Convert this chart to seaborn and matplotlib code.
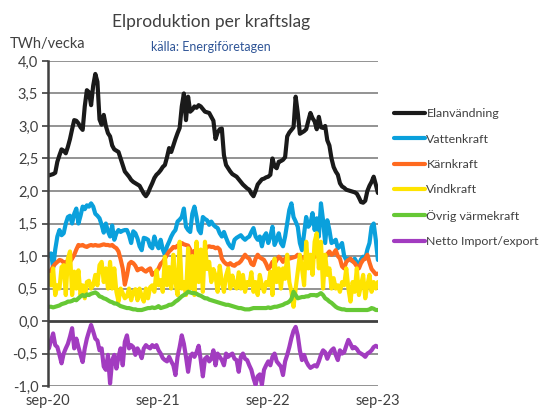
import numpy as np
import pandas as pd
import matplotlib
matplotlib.use("Agg")
import matplotlib.pyplot as plt
import matplotlib.ticker as mticker
import seaborn as sns

# Weekly values, TWh/vecka, from sep-20 to sep-23
elanvandning = [
    2.24, 2.25, 2.26, 2.28, 2.45, 2.55, 2.64, 2.62, 2.58, 2.68, 2.80, 2.95, 3.09, 3.08, 3.04, 2.98,
    2.94, 3.30, 3.55, 3.52, 3.32, 3.62, 3.80, 3.68, 3.10, 3.02, 3.17, 3.00, 2.89, 2.84, 2.70, 2.64,
    2.62, 2.60, 2.50, 2.40, 2.30, 2.26, 2.22, 2.17, 2.14, 2.12, 2.10, 2.08, 2.02, 1.96, 1.92, 1.97,
    2.05, 2.12, 2.20, 2.25, 2.28, 2.32, 2.37, 2.40, 2.52, 2.66, 2.60, 2.70, 2.80, 2.89, 2.97, 3.30,
    3.50, 3.09, 3.45, 3.22, 3.25, 3.30, 3.28, 3.32, 3.30, 3.26, 3.22, 3.21, 3.20, 3.14, 3.08, 2.80,
    2.90, 2.95, 2.96, 2.55, 2.40, 2.35, 2.30, 2.26, 2.24, 2.22, 2.18, 2.14, 2.10, 2.07, 2.04, 2.02,
    1.96, 1.92, 2.00, 2.10, 2.14, 2.18, 2.19, 2.21, 2.22, 2.25, 2.50, 2.38, 2.35, 2.45, 2.46, 2.48,
    2.52, 2.84, 2.90, 2.94, 2.98, 3.45, 3.20, 2.88, 2.90, 2.92, 2.95, 3.08, 3.20, 3.12, 3.07, 2.95,
    3.14, 2.98, 2.97, 3.00, 2.78, 2.70, 2.50, 2.37, 2.30, 2.25, 2.12, 2.07, 2.05, 2.02, 2.01, 2.00,
    1.99, 1.98, 1.96, 1.90, 1.83, 1.82, 1.85, 2.00, 2.08, 2.14, 2.22, 2.10, 1.97,
]
vattenkraft = [
    1.00, 1.04, 0.82, 1.10, 1.30, 1.40, 1.32, 1.35, 1.50, 1.60, 1.62, 1.50, 1.65, 1.73, 1.50, 1.62,
    1.76, 1.72, 1.78, 1.76, 1.81, 1.76, 1.65, 1.62, 1.58, 1.48, 1.36, 1.50, 1.38, 1.30, 1.47, 1.25,
    1.35, 1.40, 1.37, 1.39, 1.40, 1.40, 1.32, 1.20, 1.38, 1.35, 1.27, 1.15, 1.09, 1.28, 1.27, 1.25,
    1.15, 1.12, 1.30, 1.18, 1.12, 1.25, 1.10, 1.02, 1.15, 1.22, 1.30, 1.36, 1.40, 1.53, 1.56, 1.60,
    1.73, 1.45, 1.40, 1.37, 1.65, 1.76, 1.60, 1.40, 1.35, 1.60, 1.57, 1.55, 1.48, 1.53, 1.48, 1.45,
    1.43, 1.35, 1.30, 1.37, 1.28, 1.20, 1.15, 1.12, 1.25, 1.28, 1.30, 1.32, 1.28, 1.25, 1.28, 1.30,
    1.37, 1.43, 1.30, 1.25, 1.30, 1.15, 1.30, 1.35, 1.20, 1.30, 1.45, 1.17, 1.25, 1.35, 1.20, 1.15,
    1.30, 1.50, 1.71, 1.81, 1.60, 1.53, 1.45, 1.20, 1.09, 1.35, 1.60, 1.45, 1.50, 1.66, 1.40, 1.58,
    1.30, 1.81, 1.55, 1.20, 1.55, 1.40, 1.20, 1.22, 1.25, 1.12, 1.15, 1.20, 1.00, 0.94, 0.96, 0.94,
    0.92, 0.96, 0.90, 0.86, 0.95, 0.99, 0.96, 1.10, 1.20, 1.45, 1.50, 1.25, 0.94,
]
karnkraft = [
    0.76, 0.78, 0.84, 0.88, 0.91, 0.94, 0.93, 0.90, 0.91, 0.92, 0.91, 0.96, 1.02, 1.10, 1.17, 1.16,
    1.17, 1.15, 1.14, 1.16, 1.17, 1.16, 1.17, 1.16, 1.16, 1.17, 1.18, 1.17, 1.17, 1.16, 1.17, 1.14,
    1.12, 1.07, 0.95, 0.81, 0.56, 0.70, 0.88, 0.91, 0.89, 0.85, 0.78, 0.80, 0.81, 0.78, 0.76, 0.79,
    0.81, 0.71, 0.74, 0.76, 0.81, 0.88, 0.91, 0.96, 1.02, 1.07, 1.10, 1.14, 1.13, 1.16, 1.17, 1.20,
    1.18, 1.17, 1.16, 1.10, 1.02, 1.08, 1.02, 0.96, 1.02, 1.07, 1.10, 1.14, 1.15, 1.14, 1.14, 1.12,
    1.13, 1.10, 0.96, 0.91, 0.88, 0.86, 0.89, 0.86, 0.85, 0.88, 0.89, 0.92, 0.97, 1.02, 0.98, 0.96,
    0.88, 0.86, 0.96, 1.02, 0.98, 0.96, 0.94, 0.88, 0.80, 0.84, 0.91, 0.88, 0.94, 0.99, 0.96, 0.91,
    0.96, 0.99, 0.96, 0.97, 0.98, 0.99, 1.02, 1.00, 0.96, 0.98, 0.99, 1.02, 0.98, 0.96, 0.99, 1.00,
    1.02, 0.97, 0.95, 0.99, 1.03, 1.07, 1.02, 1.04, 1.09, 1.00, 0.96, 0.84, 0.81, 0.91, 0.94, 0.96,
    0.92, 0.89, 0.84, 0.81, 0.89, 0.94, 0.96, 1.02, 0.90, 0.80, 0.76, 0.72, 0.73,
]
vindkraft = [
    0.71, 0.55, 0.81, 0.40, 0.55, 0.50, 0.83, 0.86, 0.40, 0.96, 1.07, 0.40, 0.76, 0.50, 0.78, 0.40,
    0.55, 0.35, 0.60, 0.62, 0.50, 0.55, 0.71, 0.55, 0.86, 0.91, 0.60, 0.81, 0.50, 0.91, 0.50, 0.81,
    0.45, 0.30, 0.50, 0.43, 0.35, 0.38, 0.50, 0.32, 0.45, 0.49, 0.32, 0.50, 0.38, 0.30, 0.50, 0.35,
    0.52, 0.55, 0.45, 0.78, 0.55, 0.63, 0.45, 0.99, 0.55, 0.83, 0.50, 1.02, 0.60, 0.40, 1.22, 0.50,
    0.60, 0.40, 1.12, 0.50, 1.00, 0.40, 1.22, 0.60, 1.10, 0.45, 1.22, 0.80, 0.91, 0.60, 0.80, 0.70,
    0.45, 0.85, 0.60, 0.45, 0.70, 0.81, 0.50, 0.70, 0.55, 0.50, 0.75, 0.50, 0.71, 0.45, 0.60, 0.55,
    0.75, 0.45, 0.60, 0.40, 0.71, 0.55, 0.45, 0.60, 0.55, 0.76, 0.40, 0.96, 0.60, 0.81, 0.50, 0.81,
    0.65, 1.02, 0.60, 0.45, 0.22, 0.50, 0.76, 1.02, 0.81, 0.55, 1.22, 0.81, 1.02, 0.71, 1.22, 1.35,
    0.81, 1.22, 0.50, 1.02, 0.71, 0.81, 0.50, 0.66, 0.50, 0.55, 0.45, 0.60, 0.55, 0.81, 0.50, 0.30,
    0.60, 0.45, 0.81, 0.40, 0.55, 0.71, 0.35, 0.55, 0.71, 0.45, 0.60, 0.50, 0.60,
]
ovrig_varmekraft = [
    0.22, 0.22, 0.21, 0.22, 0.23, 0.24, 0.26, 0.27, 0.28, 0.30, 0.30, 0.31, 0.33, 0.32, 0.35, 0.38,
    0.40, 0.38, 0.41, 0.40, 0.42, 0.43, 0.44, 0.42, 0.38, 0.37, 0.35, 0.34, 0.32, 0.30, 0.29, 0.27,
    0.27, 0.25, 0.23, 0.22, 0.21, 0.20, 0.20, 0.19, 0.18, 0.18, 0.17, 0.17, 0.17, 0.18, 0.19, 0.20,
    0.20, 0.21, 0.20, 0.21, 0.23, 0.20, 0.21, 0.22, 0.23, 0.25, 0.25, 0.27, 0.30, 0.32, 0.35, 0.38,
    0.40, 0.42, 0.45, 0.44, 0.43, 0.43, 0.42, 0.40, 0.39, 0.37, 0.35, 0.35, 0.33, 0.32, 0.31, 0.30,
    0.29, 0.28, 0.27, 0.26, 0.25, 0.25, 0.24, 0.23, 0.22, 0.21, 0.20, 0.20, 0.19, 0.18, 0.18, 0.18,
    0.19, 0.20, 0.20, 0.20, 0.20, 0.20, 0.20, 0.20, 0.21, 0.20, 0.21, 0.22, 0.22, 0.23, 0.24, 0.25,
    0.27, 0.28, 0.30, 0.34, 0.45, 0.40, 0.35, 0.36, 0.37, 0.37, 0.38, 0.38, 0.40, 0.40, 0.40, 0.39,
    0.41, 0.43, 0.40, 0.35, 0.33, 0.30, 0.28, 0.25, 0.22, 0.20, 0.19, 0.18, 0.18, 0.17, 0.17, 0.17,
    0.17, 0.17, 0.17, 0.17, 0.17, 0.17, 0.17, 0.17, 0.18, 0.20, 0.19, 0.17, 0.17,
]
netto_import_export = [
    -0.42, -0.30, -0.19, -0.37, -0.40, -0.52, -0.65, -0.50, -0.42, -0.35, -0.24, -0.11, -0.42, -0.27, -0.40, -0.52,
    -0.63, -0.42, -0.27, -0.16, -0.06, -0.16, -0.27, -0.30, -0.45, -0.42, -0.70, -0.75, -0.52, -0.96, -0.60, -0.52,
    -0.73, -0.55, -0.42, -0.68, -0.32, -0.22, -0.42, -0.37, -0.40, -0.52, -0.42, -0.48, -0.57, -0.42, -0.37, -0.40,
    -0.42, -0.37, -0.40, -0.37, -0.45, -0.50, -0.57, -0.60, -0.62, -0.55, -0.62, -0.68, -0.83, -0.55, -0.40, -0.22,
    -0.35, -0.55, -0.78, -0.55, -0.50, -0.55, -0.48, -0.38, -0.60, -0.85, -0.58, -0.55, -0.62, -0.58, -0.45, -0.68,
    -0.50, -0.55, -0.60, -0.68, -0.50, -0.55, -0.52, -0.50, -0.58, -0.60, -0.78, -0.55, -0.50, -0.58, -0.60, -0.68,
    -0.75, -0.88, -0.98, -0.85, -0.82, -0.98, -0.75, -0.68, -0.62, -0.68, -0.55, -0.50, -0.62, -0.66, -0.70, -0.83,
    -0.62, -0.52, -0.40, -0.26, -0.15, -0.09, -0.22, -0.45, -0.60, -0.52, -0.62, -0.68, -0.72, -0.70, -0.68, -0.70,
    -0.62, -0.52, -0.45, -0.48, -0.58, -0.50, -0.45, -0.42, -0.52, -0.60, -0.45, -0.50, -0.48, -0.38, -0.29, -0.35,
    -0.42, -0.40, -0.43, -0.48, -0.50, -0.52, -0.55, -0.50, -0.48, -0.45, -0.40, -0.38, -0.40,
]

series = {
    "Elanvändning": elanvandning,
    "Vattenkraft": vattenkraft,
    "Kärnkraft": karnkraft,
    "Vindkraft": vindkraft,
    "Övrig värmekraft": ovrig_varmekraft,
    "Netto Import/export": netto_import_export,
}
colors = ["#1a1a1a", "#0aa0dc", "#ff6a1f", "#ffe400", "#66c835", "#a23cc0"]

rows = []
for name, vals in series.items():
    dates = pd.date_range("2020-09-04", periods=len(vals), freq="7D")
    rows.append(pd.DataFrame({"vecka": dates, "TWh": vals, "kraftslag": name}))
df = pd.concat(rows, ignore_index=True)

sns.set_style("white")
plt.rcParams["font.family"] = ["Lato", "DejaVu Sans"]

fig = plt.figure(figsize=(5.48, 4.09), dpi=100)
ax = fig.add_axes([0.0876, 0.056, 0.602, 0.795])

sns.lineplot(
    data=df, x="vecka", y="TWh", hue="kraftslag",
    palette=colors, linewidth=3.0, ax=ax, legend=True,
)

# grid lines every 0,5 with a heavier zero line
for v in np.arange(-1.0, 4.01, 0.5):
    if abs(v) < 1e-9:
        ax.axhline(v, color="#404040", lw=2.0, zorder=0.5)
    else:
        ax.axhline(v, color="#808080", lw=1.2, zorder=0.5)

ax.set_ylim(-1.0, 4.0)
ax.set_xlim(pd.Timestamp("2020-09-01"), pd.Timestamp("2023-09-01"))
ax.yaxis.set_major_locator(mticker.MultipleLocator(0.5))
ax.yaxis.set_major_formatter(
    mticker.FuncFormatter(lambda v, p: f"{v:.1f}".replace(".", ","))
)
xt = pd.to_datetime(["2020-09-01", "2021-09-01", "2022-09-01", "2023-09-01"])
ax.set_xticks(xt)
ax.set_xticklabels(["sep-20", "sep-21", "sep-22", "sep-23"])
ax.tick_params(axis="x", length=0, labelsize=10.5, colors="#404040", pad=6)
ax.tick_params(axis="y", length=4, width=1.2, direction="out", labelsize=10.5,
               colors="#404040", left=True, pad=3)
ax.set_xlabel("")
ax.set_ylabel("")

for side in ["top", "right", "bottom"]:
    ax.spines[side].set_visible(False)
ax.spines["left"].set_color("#404040")
ax.spines["left"].set_linewidth(1.8)

fig.text(0.385, 0.945, "Elproduktion per kraftslag", ha="center", va="center",
         fontsize=12.5, color="#404040")
fig.text(0.385, 0.885, "källa: Energiföretagen", ha="center", va="center",
         fontsize=9, color="#2f5597")
fig.text(0.018, 0.893, "TWh/vecka", ha="left", va="center",
         fontsize=10.5, color="#404040")

handles, labels = ax.get_legend_handles_labels()
ax.legend(handles, labels, loc="upper left", bbox_to_anchor=(0.698, 0.762),
          bbox_transform=fig.transFigure, frameon=False, fontsize=8.9,
          handlelength=2.5, handletextpad=0.15, labelspacing=1.16,
          labelcolor="#404040")

fig.savefig("out.png", dpi=100)
